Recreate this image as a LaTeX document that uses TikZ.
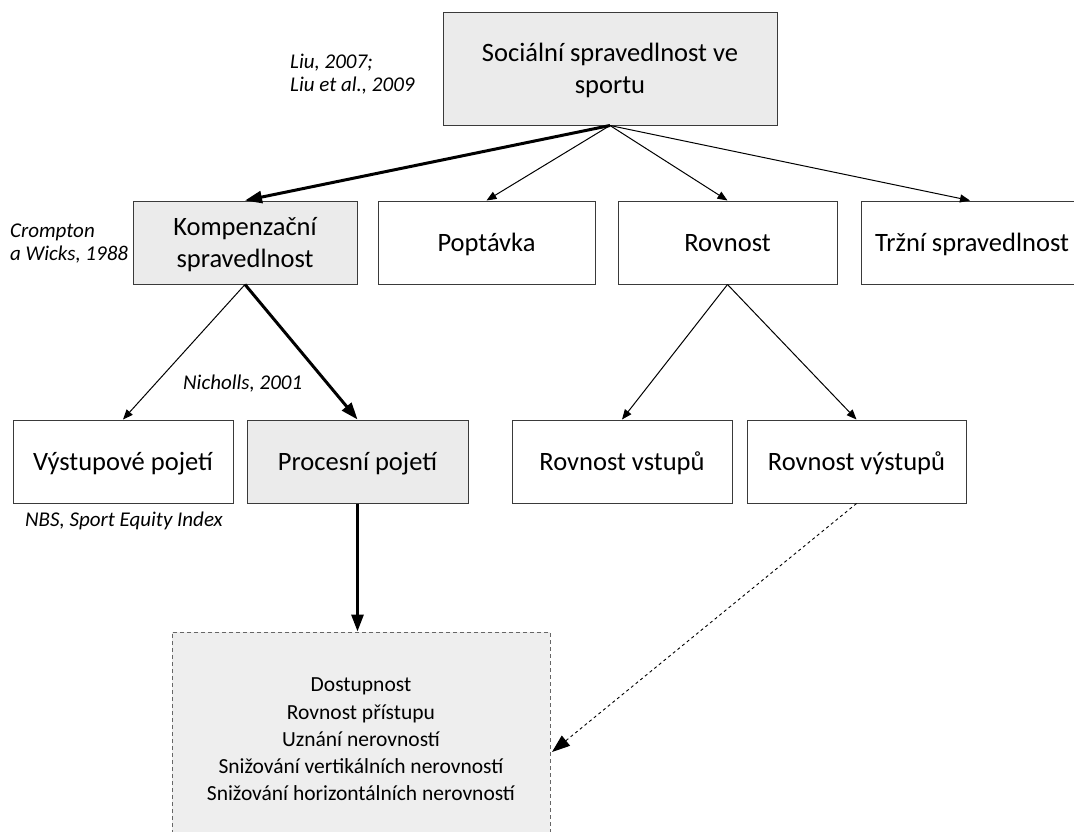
\documentclass[tikz,border=0pt]{standalone}
\usepackage{fontspec}
\setmainfont{Carlito}
\usetikzlibrary{arrows.meta}
\definecolor{boxgray}{HTML}{EBEBEB}
\definecolor{framegray}{HTML}{3A3A3A}
\tikzset{
  box/.style={draw=framegray, line width=1pt, minimum width=#1, minimum height=83pt,
    inner sep=0pt, align=center, font=\fontsize{26.5}{32}\selectfont,
    text height=24.7pt, text depth=7pt},
  box/.default=220pt,
  twolines/.style={text height=56.7pt},
  cite/.style={anchor=west, align=left, inner sep=0pt, font=\fontsize{21}{23}\selectfont\itshape},
  link/.style={line width=1pt, -{Triangle[length=10pt,width=8pt]}},
  mainlink/.style={line width=3pt, -{Triangle[length=17pt,width=12pt]}},
  hintlink/.style={line width=0.9pt, dash pattern=on 3pt off 3pt, -{Triangle[length=18pt,width=13pt]}},
}
\begin{document}
\begin{tikzpicture}[x=1pt, y=-1pt]
        \useasboundingbox (0,0) rectangle (1074,831);
        % top
        \node[box=334pt, twolines, minimum height=113pt, fill=boxgray] (social) at (610,68.5) {Sociální spravedlnost ve\\sportu};
        \node[cite] (liu) at (290,74) {Liu, 2007;\\Liu et al., 2009};
        % second level
        \node[box=224pt, twolines, fill=boxgray] (komp) at (245,242.5) {Kompenzační\\spravedlnost};
        \node[box=217pt] (popt) at (486.5,242.5) {Poptávka};
        \node[box=219pt] (rovnost) at (727.5,242.5) {Rovnost};
        \node[box=222pt] (trzni) at (972,242.5) {Tržní spravedlnost};
        \node[cite] (crompton) at (10,244) {Crompton\\a Wicks, 1988};
        % third level
        \node[box] (vystup) at (123,461.5) {Výstupové pojetí};
        \node[box=221pt, fill=boxgray] (proces) at (357.5,461.5) {Procesní pojetí};
        \node[box] (rvstup) at (622,461.5) {Rovnost vstupů};
        \node[box=219pt] (rvystup) at (856.5,461.5) {Rovnost výstupů};
        \node[cite] (nicholls) at (183,384) {Nicholls, 2001};
        \node[cite] (nbs) at (25,521) {NBS, Sport Equity Index};
        % dimensions
        \node[draw=gray!80!black, dash pattern=on 4pt off 3pt, line width=1pt, fill=boxgray!85!white,
          minimum width=378pt, minimum height=215pt, inner sep=0pt, align=center,
          font=\fontsize{21.5}{27.3}\selectfont] (dimenze) at (361,739.5)
          {Dostupnost\\Rovnost přístupu\\Uznání nerovností\\Snižování vertikálních nerovností\\Snižování horizontálních nerovností};
        \coordinate (dimenzeR) at (552,752);
        % connectors
        \draw[mainlink] (social.south) -- (komp.north);
        \draw[link] (social.south) -- (popt.north);
        \draw[link] (social.south) -- (rovnost.north);
        \draw[link] (social.south) -- (trzni.north -| 970,0);
        \draw[link] (komp.south) -- (vystup.north);
        \draw[mainlink] (komp.south) -- (proces.north);
        \draw[link] (rovnost.south) -- (rvstup.north);
        \draw[link] (rovnost.south) -- (rvystup.north);
        \draw[mainlink] (proces.south) -- (dimenze.north -| proces.south);
        \draw[hintlink] (rvystup.south) -- (dimenzeR);
    \end{tikzpicture}
\end{document}
